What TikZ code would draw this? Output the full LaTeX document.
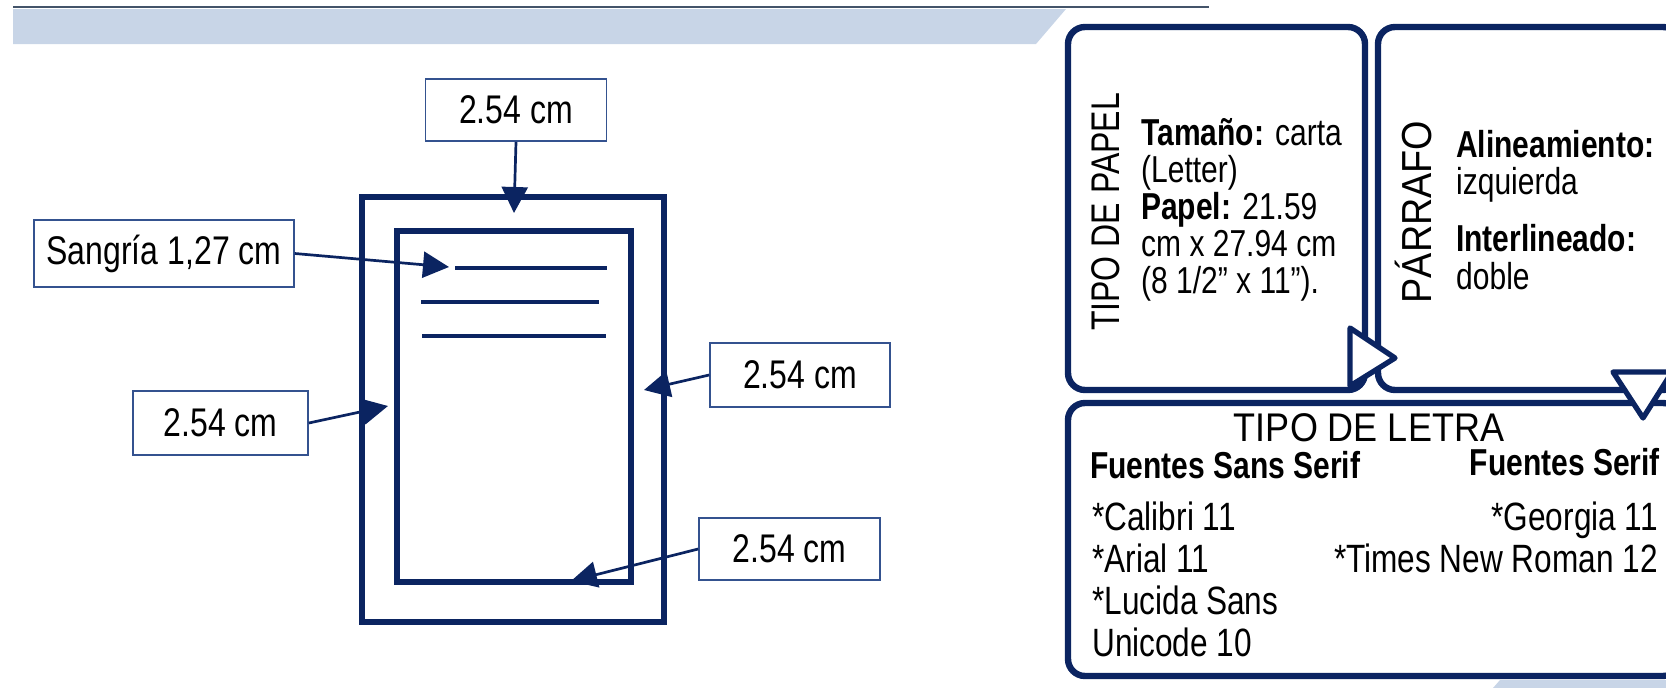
\documentclass[tikz,border=0pt]{standalone}
\usepackage{fontspec}
\setmainfont{Liberation Sans}[FakeStretch=0.8]
\newfontfamily\widetitle{Liberation Sans}[FakeStretch=0.9]
\usepackage{tikz}
\usetikzlibrary{arrows.meta}

\definecolor{pagenavy}{HTML}{0B2461}
\definecolor{bandblue}{HTML}{C8D5E7}
\definecolor{boxline}{HTML}{34528F}
\definecolor{topline}{HTML}{44546A}

\begin{document}
\begin{tikzpicture}[x=1pt, y=-1pt]
    \tikzstyle{marginbox} = [rectangle, draw=boxline, line width=1.6pt, minimum width=181pt, minimum height=62pt, inner sep=0pt, font=\fontsize{40}{44}\selectfont]
    \tikzstyle{pointer} = [draw=pagenavy, line width=2.7pt, -{Triangle[length=26pt,width=26pt]}]
    \tikzstyle{panel} = [rectangle, rounded corners=17pt, draw=pagenavy, line width=6.4pt, inner sep=0pt]
    \tikzstyle{paneltitle} = [font=\fontsize{40}{44}\selectfont, inner sep=0pt]
    \tikzstyle{paneltext} = [font=\fontsize{37.5}{40}\selectfont, inner sep=0pt, anchor=base west]
    \tikzstyle{fontlist} = [font=\fontsize{39.5}{42}\selectfont, inner sep=0pt]

    \useasboundingbox (0,0) rectangle (1666,688);

    % header band
    \fill[bandblue] (13,9) -- (1066,9) -- (1036,44) -- (13,44) -- cycle;
    \draw[topline, line width=2pt] (13,7) -- (1209,7);
    \fill[bandblue] (1500,680) -- (1666,680) -- (1666,688) -- (1493,688) -- cycle;

    % the page with its margins
    \draw[pagenavy, line width=6.4pt] (362,197) rectangle (664,622);
    \draw[pagenavy, line width=5.3pt] (397,231) rectangle (631,582);
    \draw[pagenavy, line width=4.8pt] (455,268) -- (607,268);
    \draw[pagenavy, line width=4.8pt] (421,302) -- (599,302);
    \draw[pagenavy, line width=3.2pt] (422,336) -- (606,336);

    \node (topmargin) [marginbox] at (516,110) {2.54 cm};
    \node (sangria) [marginbox, minimum width=260pt, minimum height=67pt] at (164,253.5) {Sangría 1,27 cm};
    \node (leftmargin) [marginbox, minimum width=175pt, minimum height=64pt] at (220.5,423) {2.54 cm};
    \node (rightmargin) [marginbox, minimum width=180pt, minimum height=64pt] at (800,375) {2.54 cm};
    \node (bottommargin) [marginbox] at (789.5,549) {2.54 cm};

    \coordinate (toptip) at (514,213);
    \coordinate (sangriatip) at (449,267);
    \coordinate (lefttip) at (388,406);
    \coordinate (righttip) at (644,390);
    \coordinate (bottomtip) at (571,581);

    \draw [pointer] (topmargin.south) -- (toptip);
    \draw [pointer] (sangria.east) -- (sangriatip);
    \draw [pointer] (leftmargin.east) -- (lefttip);
    \draw [pointer] (rightmargin.west) -- (righttip);
    \draw [pointer] (bottommargin.west) -- (bottomtip);

    % panels on the right
    \node (papel) [panel, minimum width=297pt, minimum height=363pt] at (1216.5,208.5) {};
    \node (parrafo) [panel, minimum width=302pt, minimum height=363pt] at (1529,208.5) {};
    \node (letra) [panel, minimum width=612pt, minimum height=273pt] at (1374,539.5) {};

    \draw[pagenavy, line width=5.3pt, fill=white, line join=round] (1350,328) -- (1395,358) -- (1350,386) -- cycle;
    \draw[pagenavy, line width=5.3pt, fill=white, line join=round] (1613,372) -- (1672,372) -- (1643,418) -- cycle;

    \node (papeltitle) [paneltitle, rotate=90] at (1106,212) {TIPO DE PAPEL};
    \foreach \txt [count=\i] in {{\textbf{Tamaño:} carta}, (Letter), {\textbf{Papel:} 21.59}, cm x 27.94 cm, (8 1/2” x 11”).}
        \node (papelline\i) [paneltext] at (1141,{145+37*(\i-1)}) {\txt};

    \node (parrafotitle) [paneltitle, rotate=90, font=\fontsize{42}{46}\widetitle] at (1413,212) {PÁRRAFO};
    \node (alineamiento) [paneltext] at (1456,157) {\textbf{Alineamiento:}};
    \node (izquierda) [paneltext] at (1456,194) {izquierda};
    \node (interlineado) [paneltext] at (1456,251) {\textbf{Interlineado:}};
    \node (doble) [paneltext] at (1456,289) {doble};

    \node (letratitle) [paneltitle, font=\fontsize{40}{44}\widetitle] at (1369,428) {TIPO DE LETRA};
    \node (sanshead) [fontlist, anchor=base west, font=\fontsize{37.5}{40}\selectfont\bfseries] at (1090,478) {Fuentes Sans Serif};
    \node (serifhead) [fontlist, anchor=base east, font=\fontsize{37.5}{40}\selectfont\bfseries] at (1660,475) {Fuentes Serif};
    \foreach \txt [count=\i] in {*Calibri 11, *Arial 11, *Lucida Sans, Unicode 10}
        \node (sansfont\i) [fontlist, anchor=base west] at (1092,{530+42.3*(\i-1)}) {\txt};
    \foreach \txt [count=\i] in {*Georgia 11, *Times New Roman 12}
        \node (seriffont\i) [fontlist, anchor=base east] at (1658,{530+42.3*(\i-1)}) {\txt};
\end{tikzpicture}
\end{document}
